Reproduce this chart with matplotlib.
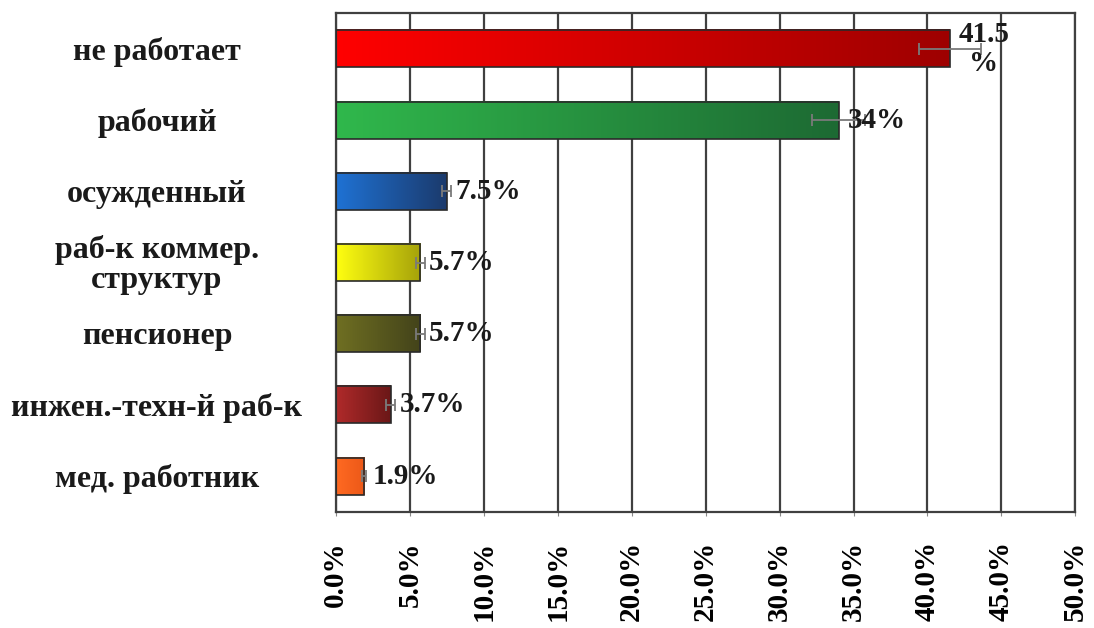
"""Horizontal bar chart with gradient bars and error bars."""
import numpy as np
import matplotlib.pyplot as plt
import matplotlib.ticker as mticker
from matplotlib.colors import LinearSegmentedColormap
from matplotlib.transforms import blended_transform_factory

categories = ['не работает', 'рабочий', 'осужденный', 'раб-к коммер.\nструктур',
              'пенсионер', 'инжен.-техн-й раб-к', 'мед. работник']
values = [41.5, 34.0, 7.5, 5.7, 5.7, 3.7, 1.9]
errors = [2.1, 1.8, 0.3, 0.3, 0.3, 0.3, 0.15]
value_labels = ['41.5\n%', '34%', '7.5%', '5.7%', '5.7%', '3.7%', '1.9%']
grad_left = ['#ff0000', '#30b84c', '#1f72d4', '#ffff10', '#6f6f22', '#b02a2a', '#ff6a22']
grad_right = ['#9e0000', '#1d6a33', '#1b3a6c', '#a5a20a', '#43431a', '#6a1717', '#ec5818']
xticks = np.arange(0, 50.1, 5)

plt.rcParams.update({'font.family': ['Liberation Serif', 'DejaVu Serif'],
                     'font.weight': 'bold'})

fig = plt.figure(figsize=(10.94, 6.28), dpi=100)
ax = fig.add_axes([0.307, 0.185, 0.676, 0.794])

ypos = np.arange(len(categories))
bar_h = 0.52

# gradient fills
grad = np.linspace(0, 1, 256).reshape(1, -1)
for y, v, c1, c2 in zip(ypos, values, grad_left, grad_right):
    cmap = LinearSegmentedColormap.from_list('g', [c1, c2])
    ax.imshow(grad, cmap=cmap, aspect='auto', zorder=2,
              extent=[0, v, y + bar_h / 2, y - bar_h / 2])

ax.barh(ypos, values, height=bar_h, facecolor='none', edgecolor='#2a2a2a',
        linewidth=1.2, zorder=3)
ax.errorbar(values, ypos, xerr=errors, fmt='none', ecolor='#7a7a7a',
            elinewidth=1.3, capsize=4, capthick=1.3, zorder=4)

for y, v, lab in zip(ypos, values, value_labels):
    ax.text(v + 0.6, y, lab, ha='left', va='center', multialignment='center',
            fontsize=21, fontweight='bold', color='#1a1a1a', zorder=5,
            linespacing=1.1)

# category labels centred in the left margin
trans = blended_transform_factory(fig.transFigure, ax.transData)
for y, cat in zip(ypos, categories):
    ax.text(0.1435, y + 0.04, cat, transform=trans, ha='center', va='center',
            multialignment='center', fontsize=23, fontweight='bold',
            color='#1a1a1a', linespacing=1.05)

ax.set_yticks([])
ax.set_xlim(0, 50)
ax.set_ylim(len(categories) - 0.5, -0.5)
ax.set_xticks(xticks)
ax.xaxis.set_major_formatter(mticker.FuncFormatter(lambda x, _: f'{x:.1f}%'))
ax.tick_params(axis='x', labelrotation=90, labelsize=21, length=3, pad=18,
               color='#888888')
for lbl in ax.get_xticklabels():
    lbl.set_fontweight('bold')

ax.grid(axis='x', color='#404040', linewidth=1.6, zorder=1)
ax.set_axisbelow(True)
for sp in ax.spines.values():
    sp.set_color('#404040')
    sp.set_linewidth(1.6)

fig.savefig('out.png', dpi=100)
